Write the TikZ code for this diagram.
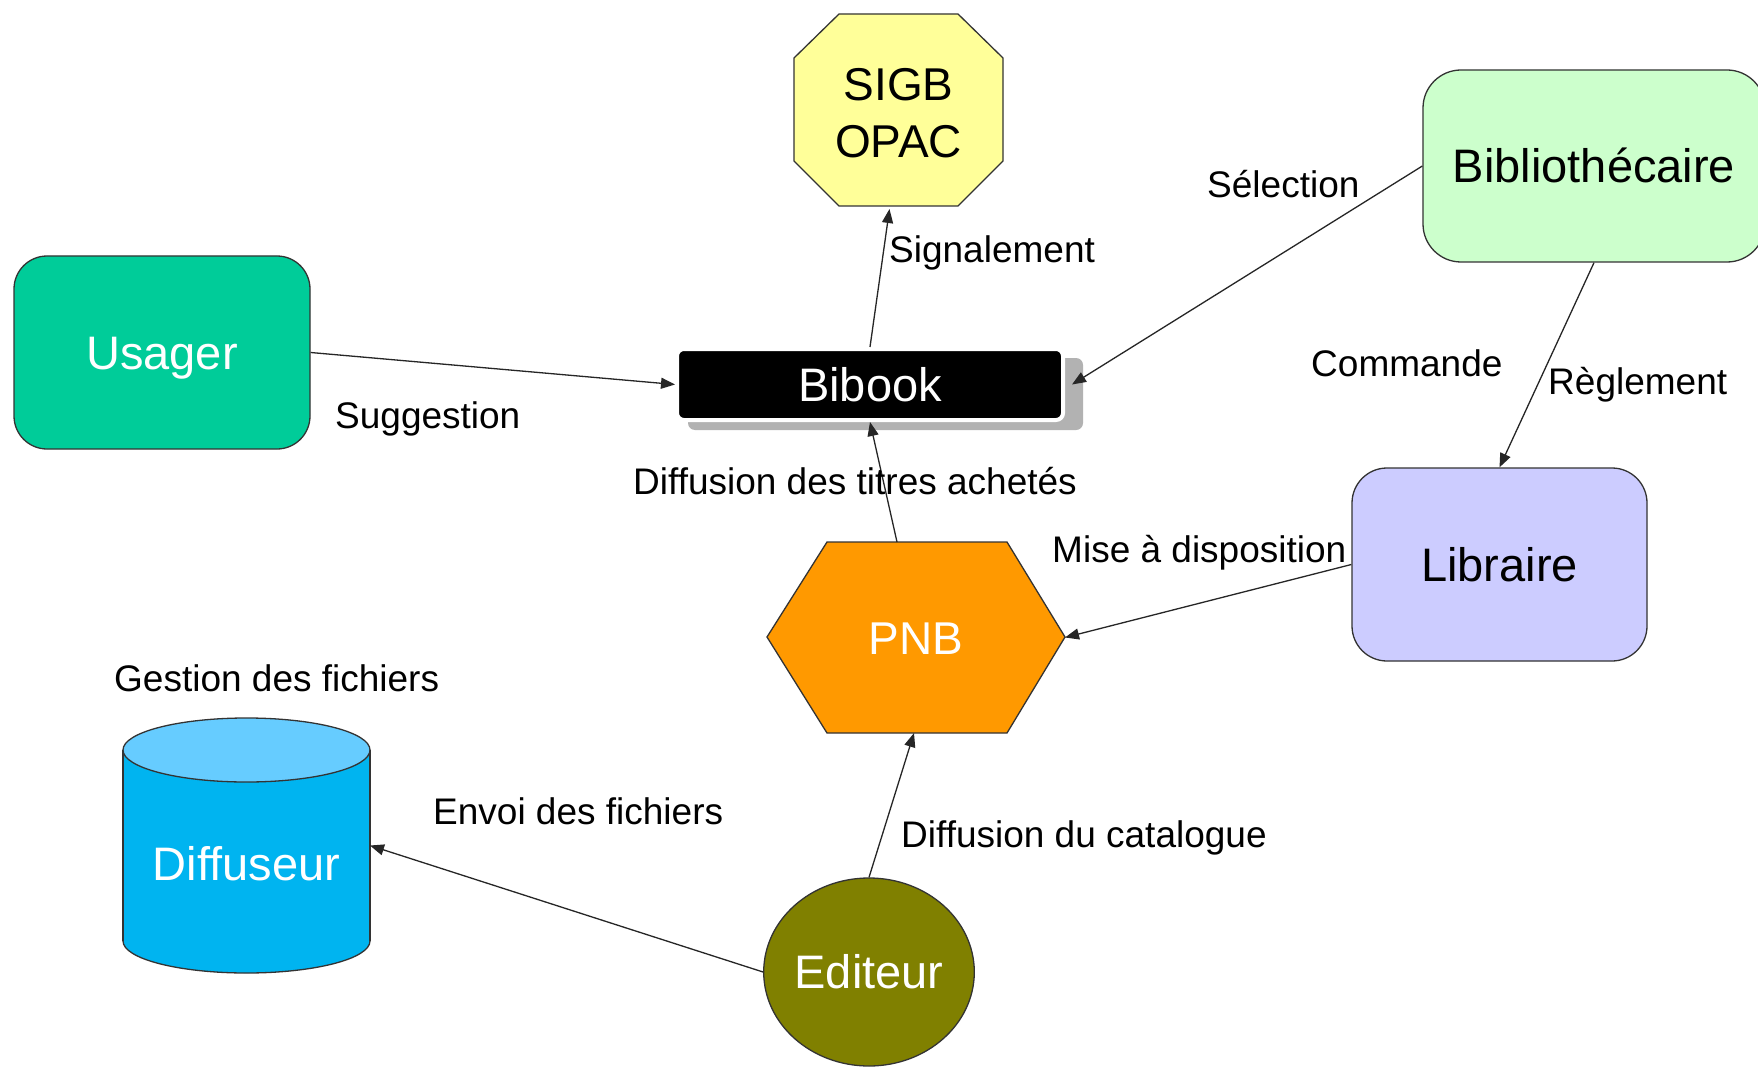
\documentclass[tikz,border=0pt]{standalone}
\usepackage{fontspec}
\setmainfont{Liberation Sans}
\usetikzlibrary{arrows.meta,shapes.geometric}
\definecolor{cSigb}{HTML}{FFFF99}
\definecolor{cUsager}{HTML}{00CC99}
\definecolor{cBibl}{HTML}{CCFFCC}
\definecolor{cLib}{HTML}{CCCCFF}
\definecolor{cPnb}{HTML}{FF9900}
\definecolor{cDiffBody}{HTML}{00B4F0}
\definecolor{cDiffTop}{HTML}{66CCFF}
\definecolor{cEdit}{HTML}{808000}
\definecolor{cLine}{HTML}{333333}
\tikzset{
  bigtxt/.style={font=\fontsize{47}{57}\selectfont},
  shapebox/.style={draw=cLine, line width=1.3pt, inner sep=0pt, text height=33pt, text depth=0pt, bigtxt},
  ghost/.style={inner sep=0pt, outer sep=0pt},
  lbl/.style={font=\fontsize{37}{44}\selectfont, anchor=base west, inner sep=0pt},
  arr/.style={draw=black!85, line width=1.3pt, -{Triangle[length=14pt,width=11pt]}},
  outl/.style={draw=cLine, line width=1.3pt}
}
\begin{document}
\begin{tikzpicture}[x=1pt,y=-1pt]
\useasboundingbox (0,0) rectangle (1758,1067);
\fill[white] (0,0) rectangle (1758,1067);
\clip (0,0) rectangle (1758,1067);

% SIGB / OPAC octagon
\filldraw[outl, fill=cSigb] (839,14) -- (958,14) -- (1003,58) -- (1003,161) -- (958,206) -- (839,206) -- (794,161) -- (794,58) -- cycle;
\node[ghost, minimum width=209pt, minimum height=192pt, align=center, font=\fontsize{46}{57}\selectfont] (sigb) at (898.5,113) {SIGB\\OPAC};

% Usager
\node[shapebox, fill=cUsager, text=white, rounded corners=33pt, minimum width=296pt, minimum height=193pt] (usager) at (162,352.5) {Usager};

% Bibliothecaire
\node[shapebox, fill=cBibl, rounded corners=38pt, minimum width=342pt, minimum height=192pt] (bibl) at (1594,166) {Biblioth\'ecaire};

% Libraire
\node[shapebox, fill=cLib, rounded corners=35pt, minimum width=295pt, minimum height=193pt] (libraire) at (1499.5,564.5) {Libraire};

% Bibook with shadow
\fill[gray!60, rounded corners=7pt] (688,358) rectangle (1083,430);
\node[fill=black, draw=white, line width=4pt, rounded corners=7pt, text=white, inner sep=0pt, text height=33pt, text depth=0pt, bigtxt, minimum width=386pt, minimum height=71pt] (bibook) at (870,384.5) {Bibook};

% PNB hexagon
\filldraw[outl, fill=cPnb] (767,637) -- (827,542) -- (1007,542) -- (1065,637) -- (1007,733) -- (827,733) -- cycle;
\node[ghost, minimum width=298pt, minimum height=191pt, text=white, font=\fontsize{46}{57}\selectfont, text height=33pt, text depth=0pt] (pnb) at (916,637.5) {PNB};

% Diffuseur cylinder
\filldraw[outl, fill=cDiffBody] (246.5,941) ellipse [x radius=123.5pt, y radius=32pt];
\fill[cDiffBody] (123,750) rectangle (370,941);
\draw[outl] (123,750) -- (123,941);
\draw[outl] (370,750) -- (370,941);
\filldraw[outl, fill=cDiffTop] (246.5,750) ellipse [x radius=123.5pt, y radius=32pt];
\node[ghost, minimum width=247pt, minimum height=255pt] (diffuseur) at (246.5,845.5) {};
\node[ghost, text=white, bigtxt, text height=33pt, text depth=0pt] (difftxt) at (246.5,864) {Diffuseur};

% Editeur
\node[shapebox, ellipse, fill=cEdit, text=white, minimum width=208pt, minimum height=188pt] (editeur) at (869,972) {Editeur};

% Connectors
\draw[arr] (usager.east) -- (bibook.west);
\draw[arr] (bibook.north) -- ([xshift=-9pt]sigb.south);
\draw[arr] (bibl.west) -- ([xshift=7pt]bibook.east);
\draw[arr] (bibl.south) -- (libraire.north);
\draw[arr] ([xshift=-19pt]pnb.north) -- (bibook.south);
\draw[arr] (libraire.west) -- (pnb.east);
\draw[arr] (editeur.north) -- ([xshift=-2pt]pnb.south);
\draw[arr] (editeur.west) -- (diffuseur.east);

% Labels
\node[lbl] (lSig) at (889,262) {Signalement};
\node[lbl] (lSel) at (1207,198) {S\'election};
\node[lbl] (lSug) at (335,428) {Suggestion};
\node[lbl] (lCom) at (1311,376) {Commande};
\node[lbl] (lReg) at (1548,394) {R\`eglement};
\node[lbl] (lDif) at (633,494) {Diffusion des titres achet\'es};
\node[lbl] (lMis) at (1052,562) {Mise \`a disposition};
\node[lbl] (lGes) at (114,691) {Gestion des fichiers};
\node[lbl] (lEnv) at (433,824) {Envoi des fichiers};
\node[lbl] (lCat) at (901,847) {Diffusion du catalogue};
\end{tikzpicture}
\end{document}
